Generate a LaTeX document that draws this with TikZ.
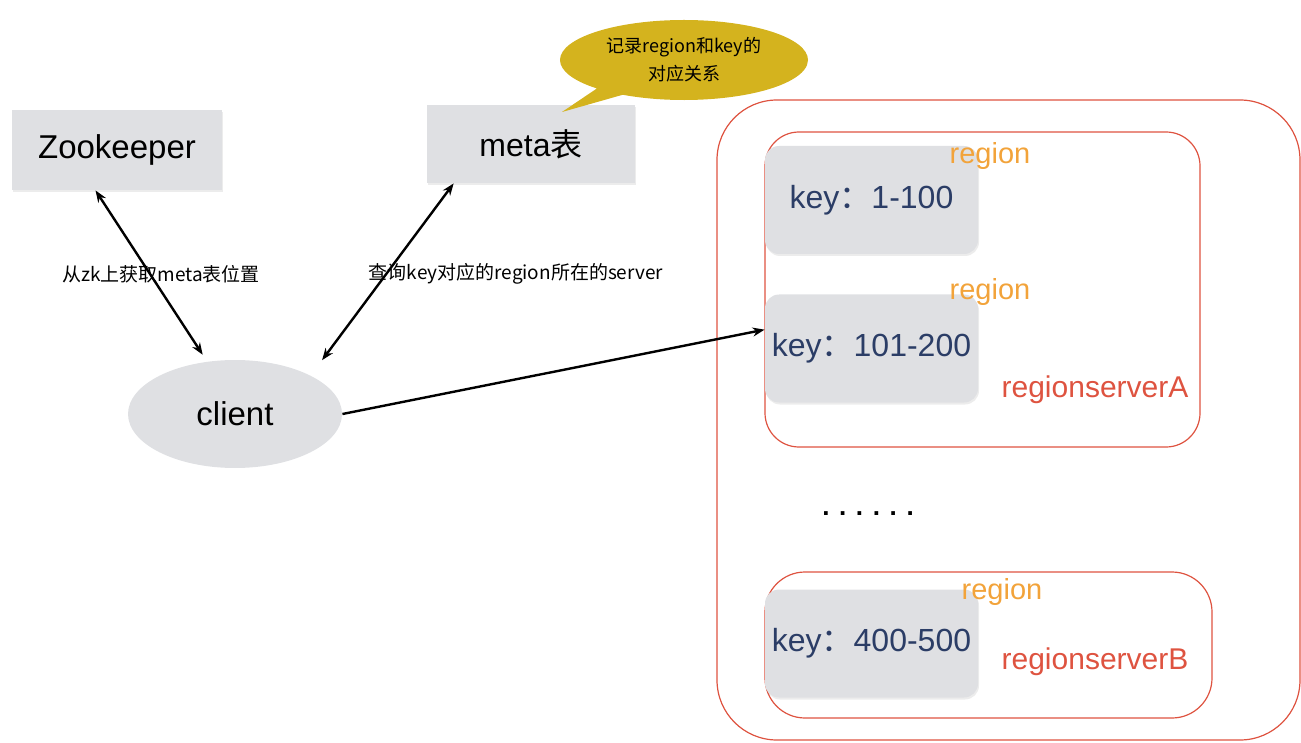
\documentclass[tikz,border=0pt]{standalone}
\usepackage{fontspec}
\setmainfont{Liberation Sans}
\newfontfamily\cjk{Noto Sans CJK SC}
\usetikzlibrary{shapes.geometric,shapes.callouts,arrows.meta,shadows}
\definecolor{boxgray}{HTML}{DFE0E3}
\definecolor{calloutyellow}{HTML}{D4B31E}
\definecolor{serverred}{HTML}{DE5340}
\definecolor{regionorange}{HTML}{F2A33A}
\definecolor{keyblue}{HTML}{2B3D66}

\begin{document}
\begin{tikzpicture}[x=0.5pt,y=-0.5pt,
    graybox/.style={fill=boxgray,inner sep=0pt,drop shadow={opacity=0.15,shadow xshift=0.5pt,shadow yshift=-1pt}},
    keybox/.style={graybox,rounded corners=7pt,minimum width=106.5pt,minimum height=54pt,
      text=keyblue,font=\fontsize{16}{18}\selectfont},
    regionlabel/.style={text=regionorange,font=\fontsize{14.5}{16}\selectfont},
    serverlabel/.style={text=serverred,font=\fontsize{15}{17}\selectfont},
    smalllabel/.style={font=\cjk\fontsize{9.5}{11}\selectfont},
    link/.style={line width=1.2pt,{Stealth[length=6pt]}-{Stealth[length=6pt]}}]
    \useasboundingbox (0,0) rectangle (1301,743);
    \node[graybox,minimum width=105pt,minimum height=40pt,font=\fontsize{16.5}{18}\selectfont]
      (zk) at (117,150) {Zookeeper};
    \node[graybox,minimum width=104pt,minimum height=39pt,font=\fontsize{16}{18}\selectfont]
      (meta) at (531,144) {meta{\cjk 表}};
    \node[ellipse callout,fill=calloutyellow,minimum width=124pt,minimum height=40pt,inner sep=0pt,
      callout absolute pointer={(562,112)},align=center,font=\cjk\fontsize{9}{14}\selectfont]
      (note) at (684,60) {记录region和key的\\对应关系};
    \node[ellipse,fill=boxgray,minimum width=107pt,minimum height=54pt,inner sep=0pt,
      font=\fontsize{16.5}{18}\selectfont] (client) at (235,414) {client};
    \node[smalllabel] (zklabel) at (161,274) {从zk上获取meta表位置};
    \node[smalllabel] (metalabel) at (516,274) {查询key对应的region所在的server};

    \draw[serverred,line width=0.6pt,rounded corners=30pt] (717,100) rectangle (1300,740);
    \draw[serverred,line width=0.6pt,rounded corners=17pt] (765,132) rectangle (1200,447);
    \draw[serverred,line width=0.6pt,rounded corners=20pt] (765,572) rectangle (1212,718);
    \node[keybox] (key1) at (871.5,200) {key{\cjk ：}1-100};
    \node[keybox] (key2) at (871.5,348.5) {key{\cjk ：}101-200};
    \node[keybox] (key3) at (871.5,643.5) {key{\cjk ：}400-500};
    \node[regionlabel] (region1) at (990,156) {region};
    \node[regionlabel] (region2) at (990,292) {region};
    \node[regionlabel] (region3) at (1002,592) {region};
    \node[serverlabel] (serverA) at (1095,390) {regionserverA};
    \node[serverlabel] (serverB) at (1095,662) {regionserverB};
    \node[font=\bfseries\fontsize{13}{15}\selectfont] (dots) at (868,514) {. . . . . .};

    \draw[link,shorten >=4pt] (zk.-118) -- (client.118);
    \draw[link,shorten >=9.5pt] (meta.-153) -- (client.27);
    \draw[line width=1.2pt,-{Stealth[length=6pt]}] (client.east) -- (key2.170);
  \end{tikzpicture}
\end{document}
